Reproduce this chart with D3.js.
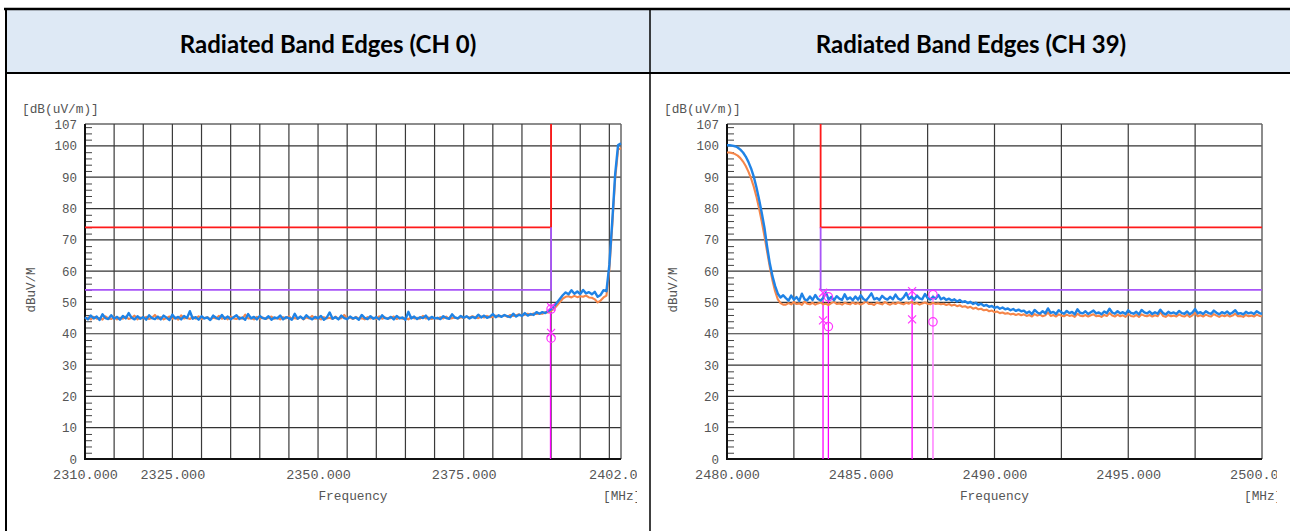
<!DOCTYPE html>
<html><head><meta charset="utf-8">
<script src="https://cdn.jsdelivr.net/npm/d3@7"></script>
<style>html,body{margin:0;padding:0;background:#fff;} svg{display:block}</style>
</head><body>
<svg id="c" width="1290" height="531"></svg>
<script>
// ---------------- DATA ----------------
const titles = ["Radiated Band Edges (CH 0)", "Radiated Band Edges (CH 39)"];
const yTicks = [0,10,20,30,40,50,60,70,80,90,100,107];
const yUnit = "[dB(uV/m)]";
const yName = "dBuV/M";
const xName = "Frequency";
const xUnit = "[MHz]";
const ch0Domain = [2310, 2402];
const ch39Domain = [2480, 2500];
const ch0Ticks = [2310, 2325, 2350, 2375, 2402];
const ch39Ticks = [2480, 2485, 2490, 2495, 2500];
const ch0Grid = [2315,2320,2325,2330,2335,2340,2345,2350,2355,2360,2365,2370,2375,2380,2385,2390,2395,2400];
const ch39Grid = [2482.5,2485,2487.5,2490,2492.5,2495,2497.5];
// sweep grid (frequency of first point and spacing)
const ch0Start = 2310, ch0Step = 0.5;
const ch39Start = 2480, ch39Step = 0.1;

const ch0Peak = [
45.3,44.6,45.8,44.9,45.5,44.4,46.2,45.0,44.7,45.9,44.8,45.4,44.5,
45.7,44.9,46.6,45.1,44.6,45.6,44.8,45.3,44.5,45.9,45.0,44.7,45.5,
44.6,45.8,45.1,44.4,46.1,44.9,45.4,44.6,45.7,45.0,47.2,44.8,45.3,
44.5,45.6,44.9,45.2,44.4,45.8,45.1,44.7,46.0,44.8,45.5,44.6,45.3,
45.9,44.7,45.2,44.5,46.3,44.9,45.4,44.6,45.7,45.0,44.8,45.6,44.5,
45.2,44.9,45.8,44.6,45.3,45.0,44.5,46.4,44.8,45.5,44.7,45.9,45.1,
44.6,45.4,44.9,45.7,44.5,45.2,46.8,44.8,45.3,44.6,45.8,45.0,44.7,
45.5,44.9,45.2,44.5,46.0,45.1,44.7,45.6,44.8,45.3,44.6,45.9,45.0,
44.8,45.4,44.6,45.7,44.9,45.2,44.5,47.0,44.9,45.5,44.7,45.3,45.0,
45.8,44.6,45.4,44.9,45.1,44.7,45.6,45.0,44.8,46.2,45.2,44.9,45.7,
45.1,45.6,44.9,45.4,45.0,46.1,45.2,45.8,45.1,45.5,46.3,45.3,45.9,
45.4,46.0,45.6,45.3,46.4,45.5,46.1,45.7,46.6,45.8,46.3,46.0,46.9,
46.4,46.9,46.6,47.3,47.8,48.7,49.9,51.1,52.3,53.2,52.6,53.9,52.8,53.5,
52.7,54.0,52.9,53.3,52.6,53.4,51.8,52.4,53.9,53.6,62.0,76.0,91.0,100.3,100.8
];
const ch0Avg = [
44.9,45.2,44.6,45.4,44.8,45.0,44.5,45.6,44.9,44.7,45.3,44.6,45.1,
44.8,45.5,44.7,45.0,45.8,44.6,45.2,44.9,45.4,44.7,45.1,46.0,44.8,
45.3,44.6,45.0,45.5,44.8,45.2,44.5,45.9,44.9,45.1,44.7,45.4,44.8,
45.6,44.7,45.0,45.3,44.6,45.1,44.9,45.7,44.8,45.2,44.6,45.5,44.9,
44.7,45.3,44.8,46.1,44.9,45.0,44.6,45.4,44.8,45.2,44.7,45.0,45.5,
44.8,45.1,44.6,45.3,44.9,45.6,44.7,45.0,44.8,45.4,44.6,45.2,44.9,
45.7,44.8,45.0,44.6,45.3,44.9,45.1,44.7,45.5,44.8,45.0,46.0,44.9,
45.2,44.7,45.4,44.8,45.0,44.6,45.3,44.9,45.1,44.7,45.6,44.8,45.2,
44.9,45.0,45.5,44.7,45.2,44.8,45.0,44.6,45.4,44.9,45.1,44.8,45.7,
44.9,45.2,44.7,45.1,44.8,45.3,44.9,45.5,44.8,45.0,45.2,44.9,45.3,
45.0,45.4,45.1,45.6,45.2,45.0,45.5,45.2,45.7,45.3,45.4,45.8,45.5,
45.6,45.9,45.4,46.0,45.7,45.9,46.2,45.8,46.1,46.4,46.0,46.5,46.3,
46.5,46.4,46.9,46.8,47.3,48.0,49.0,50.1,51.2,51.8,52.0,51.6,52.1,51.7,
52.0,51.8,52.2,51.6,51.5,51.0,50.0,50.6,51.6,52.2,60.5,74.5,89.5,98.8,99.3
];
const ch39Peak = [
100.2,100.2,100.1,99.9,99.5,98.8,97.9,96.6,94.9,92.8,
90.2,86.8,82.9,78.6,73.9,67.8,62.5,58.4,55.2,52.8,51.6,52.3,
51.4,50.6,52.2,50.9,51.7,50.5,52.8,51.0,50.7,51.9,50.8,52.4,51.1,50.6,51.5,53.2,50.9,51.8,50.7,52.0,
51.2,50.8,52.6,51.0,51.6,50.7,51.9,50.9,52.3,51.1,50.6,51.7,52.9,51.0,51.4,50.8,52.1,51.3,50.9,51.8,
51.0,52.5,51.2,50.8,51.6,53.0,51.1,51.9,50.9,52.2,51.3,51.0,52.7,51.4,50.9,51.8,51.2,52.4,51.0,
51.5,50.8,51.2,50.6,51.0,50.3,50.8,50.1,50.4,49.8,50.2,49.5,49.9,49.2,49.6,
48.9,49.2,48.6,48.9,48.3,48.6,48.0,48.4,47.8,48.1,47.5,47.9,47.3,47.7,47.2,
47.4,46.6,47.1,46.3,47.6,46.8,46.4,47.2,46.5,48.1,46.7,47.0,46.3,47.5,46.9,46.4,47.3,46.6,47.0,46.2,47.8,46.7,46.5,47.2,46.3,46.9,47.4,46.5,46.8,46.2,
47.1,46.6,48.0,46.8,46.4,47.2,46.5,46.9,46.3,47.5,46.7,46.4,47.0,46.2,47.6,46.8,46.5,47.1,46.3,46.9,46.4,47.7,46.6,46.2,47.0,46.5,46.8,46.3,47.3,46.6,
46.4,47.1,46.2,46.8,47.9,46.5,46.9,46.3,47.2,46.6,46.4,47.4,46.7,46.2,46.9,46.5,47.1,46.3,46.8,47.5,46.4,46.6,46.2,47.0,46.5,46.8,46.3,47.2,46.6,46.4
];
const ch39Avg = [
97.9,97.9,97.7,97.4,96.9,96.1,95.0,93.6,91.8,89.6,
87.0,83.8,80.0,75.8,71.2,66.2,61.3,57.0,53.5,51.0,49.8,49.3,
49.3,49.8,49.4,50.1,49.5,49.7,49.2,50.3,49.6,49.4,49.9,49.3,49.7,50.0,49.4,49.6,49.2,49.8,50.2,49.5,
49.7,49.3,49.9,49.6,49.4,50.0,49.5,49.8,49.3,49.7,50.4,49.5,49.6,49.2,49.9,49.7,49.4,50.1,49.6,49.3,
49.8,49.5,50.0,49.7,49.4,49.9,49.6,50.2,49.5,49.8,49.3,49.7,50.0,49.6,49.4,49.9,49.5,49.7,49.4,
49.6,49.2,49.5,49.0,49.3,48.8,49.1,48.6,48.8,48.3,48.6,48.0,48.3,47.8,48.0,
47.5,47.7,47.2,47.4,46.9,47.1,46.6,46.8,46.4,46.6,46.2,46.4,46.0,46.3,45.9,
46.2,45.7,46.0,45.5,46.3,45.8,46.1,45.6,45.9,46.8,45.7,46.0,45.5,46.2,45.8,45.6,46.1,45.7,45.9,45.4,46.4,45.8,45.6,46.0,45.5,45.9,46.2,45.6,45.8,45.4,
46.0,45.7,46.6,45.8,45.5,46.1,45.6,45.9,45.4,46.3,45.7,45.5,46.0,45.4,46.2,45.8,45.6,46.0,45.5,45.9,45.6,47.0,45.7,45.4,46.0,45.6,45.8,45.5,46.2,45.7,
45.5,46.1,45.4,45.9,46.7,45.6,45.9,45.5,46.1,45.7,45.5,46.3,45.8,45.4,45.9,45.6,46.0,45.5,45.8,46.4,45.6,45.7,45.4,46.0,45.6,45.8,45.5,46.1,45.7,45.6
];
const peakLimit = 74, avgLimit = 54;
const ch0Edge = 2390, ch39Edge = 2483.5;
const ch0MarkerF = [2390, 2390, 2390, 2390];
const ch0MarkerV = [48.5, 47.9, 40.3, 38.6];
const ch0MarkerS = ["x", "o", "x", "o"];
const ch0MarkerLineF = [2389.9];
const ch0MarkerLineV = [48.2];
const ch39MarkerF = [2483.59, 2483.79, 2483.59, 2483.79, 2486.92, 2487.70, 2486.92, 2487.70];
const ch39MarkerV = [53.1, 51.8, 44.3, 42.3, 53.6, 52.5, 44.6, 43.8];
const ch39MarkerS = ["x", "o", "x", "o", "x", "o", "x", "o"];
const ch39MarkerLineF = [2483.59, 2483.79, 2486.92, 2487.70];
const ch39MarkerLineV = [53.1, 51.8, 53.6, 52.5];

// ---------------- DRAW ----------------
const svg = d3.select("#c");
const W = 1290, H = 531;
const MONO = "'Liberation Mono','Courier New',monospace";

// table
svg.append("rect").attr("x",6).attr("y",9).attr("width",W).attr("height",64).attr("fill","#dee9f5");
const tbl = [[4,9,W,9,2.5],[6,8,6,H,2],[6,73,W,73,2],[650,9,650,H,1.5]];
tbl.forEach(t=>svg.append("line").attr("x1",t[0]).attr("y1",t[1]).attr("x2",t[2]).attr("y2",t[3]).attr("stroke","#000").attr("stroke-width",t[4]));
svg.selectAll("text.title").data(titles).enter().append("text")
  .attr("x",(d,i)=> i===0 ? 328 : 971).attr("y",53)
  .attr("text-anchor","middle").attr("font-family","Lato,'Open Sans',sans-serif")
  .attr("font-weight",700).attr("font-size",24).attr("fill","#000").text(d=>d);

function drawChart(id, cfg) {
  const x = d3.scaleLinear().domain(cfg.domain).range([cfg.left, cfg.right]);
  const y = d3.scaleLinear().domain([0,107]).range([459,124]);
  svg.append("clipPath").attr("id","clip"+id).append("rect")
     .attr("x",cfg.left-80).attr("y",80).attr("width",cfg.right-cfg.left+80+cfg.clipPad).attr("height",450);
  const g = svg.append("g").attr("clip-path",`url(#clip${id})`);

  // grid
  const grid = g.append("g");
  grid.selectAll("line.h").data(yTicks.filter(v=>v>0)).enter().append("line")
    .attr("x1",cfg.left).attr("x2",cfg.right).attr("y1",d=>y(d)).attr("y2",d=>y(d))
    .attr("stroke",d=>d===107?"#666":"#333").attr("stroke-width",d=>d===107?1.5:1.2);
  grid.selectAll("line.v").data(cfg.grid.concat([cfg.domain[1]])).enter().append("line")
    .attr("x1",d=>x(d)).attr("x2",d=>x(d)).attr("y1",y(107)).attr("y2",y(0))
    .attr("stroke",d=>d===cfg.domain[1]?"#666":"#3a3a3a").attr("stroke-width",d=>d===cfg.domain[1]?1.5:1.2);

  // minor ticks
  const minor = d3.range(2,107,2).filter(v=>v%10!==0);
  g.append("g").attr("transform",`translate(${cfg.left},0)`)
    .call(d3.axisRight(y).tickValues(minor).tickSize(7).tickFormat(""))
    .call(a=>a.select(".domain").remove())
    .call(a=>a.selectAll("line").attr("stroke","#444").attr("stroke-width",1));

  // y axis labels
  g.append("g").attr("transform",`translate(${cfg.left},0)`)
    .call(d3.axisLeft(y).tickValues(yTicks).tickSize(0).tickPadding(8).tickFormat(d3.format("d")))
    .call(a=>a.select(".domain").remove())
    .call(a=>a.selectAll("text").attr("font-family",MONO).attr("font-size",12.5).attr("fill","#555"));
  // x axis labels
  g.append("g").attr("transform",`translate(0,${y(0)})`)
    .call(d3.axisBottom(x).tickValues(cfg.ticks).tickSize(0).tickPadding(10).tickFormat(d3.format(".3f")))
    .call(a=>a.select(".domain").remove())
    .call(a=>a.selectAll("text").attr("font-family",MONO).attr("font-size",13.5).attr("fill","#555"));

  // axes lines
  g.append("line").attr("x1",cfg.left).attr("x2",cfg.left).attr("y1",y(107)).attr("y2",y(0)+1).attr("stroke","#111").attr("stroke-width",2);
  g.append("line").attr("x1",cfg.left).attr("x2",cfg.right).attr("y1",y(0)).attr("y2",y(0)).attr("stroke","#111").attr("stroke-width",2);

  // texts
  g.append("text").attr("x",cfg.left-63).attr("y",113).attr("font-family",MONO).attr("font-size",12.8).attr("fill","#555").text(yUnit);
  g.append("text").attr("transform",`translate(${cfg.left-50},290) rotate(-90)`).attr("text-anchor","middle")
    .attr("font-family",MONO).attr("font-size",12.5).attr("fill","#555").text(yName);
  g.append("text").attr("x",(cfg.left+cfg.right)/2).attr("y",500).attr("text-anchor","middle")
    .attr("font-family",MONO).attr("font-size",12.8).attr("fill","#555").text(xName);
  g.append("text").attr("x",cfg.right-18).attr("y",500)
    .attr("font-family",MONO).attr("font-size",12.8).attr("fill","#555").text(xUnit);

  // limit lines
  const lim = g.append("g").attr("fill","none");
  const e = cfg.edge;
  if (cfg.side === "left") {
    lim.append("path").attr("d", d3.line()([[x(cfg.domain[0]),y(peakLimit)],[x(e),y(peakLimit)],[x(e),y(107)]]))
       .attr("stroke","#ff1a1a").attr("stroke-width",1.8);
    lim.append("path").attr("d", d3.line()([[x(cfg.domain[0]),y(avgLimit)],[x(e),y(avgLimit)],[x(e),y(peakLimit)]]))
       .attr("stroke","#a855f7").attr("stroke-width",1.8);
  } else {
    lim.append("path").attr("d", d3.line()([[x(e),y(107)],[x(e),y(peakLimit)],[x(cfg.domain[1]),y(peakLimit)]]))
       .attr("stroke","#ff1a1a").attr("stroke-width",1.8);
    lim.append("path").attr("d", d3.line()([[x(e),y(peakLimit)],[x(e),y(avgLimit)],[x(cfg.domain[1]),y(avgLimit)]]))
       .attr("stroke","#a855f7").attr("stroke-width",1.8);
  }

  // marker lines
  g.selectAll("line.ml").data(cfg.mlF).enter().append("line")
    .attr("x1",d=>x(d)).attr("x2",d=>x(d)).attr("y1",(d,i)=>y(cfg.mlV[i])).attr("y2",y(0))
    .attr("stroke",(d,i)=> i===3 ? "#ff88ff" : "#ff00ff").attr("stroke-width",(d,i)=> i===3 ? 1.6 : 1.3);

  // traces
  const line = d3.line().x((d,i)=>x(cfg.start + i*cfg.step)).y(d=>y(d));
  g.append("path").attr("d",line(cfg.avg)).attr("fill","none").attr("stroke","#f5864a").attr("stroke-width",2.1).attr("stroke-linejoin","round");
  g.append("path").attr("d",line(cfg.peak)).attr("fill","none").attr("stroke","#1f83e6").attr("stroke-width",2.4).attr("stroke-linejoin","round");

  // markers
  const mk = g.append("g").attr("fill","none").attr("stroke","#ff33ff").attr("stroke-width",1.2);
  cfg.mF.forEach((f,i)=>{
    const cx = x(f), cy = y(cfg.mV[i]);
    if (cfg.mS[i] === "o") {
      mk.append("circle").attr("cx",cx).attr("cy",cy).attr("r",4.2);
    } else {
      mk.append("path").attr("d",`M${cx-4},${cy-4}L${cx+4},${cy+4}M${cx-4},${cy+4}L${cx+4},${cy-4}`);
    }
  });
}

drawChart(0, {side:"left", domain:ch0Domain, left:85, right:621, clipPad:16, ticks:ch0Ticks, grid:ch0Grid,
  start:ch0Start, step:ch0Step, peak:ch0Peak, avg:ch0Avg, edge:ch0Edge,
  mF:ch0MarkerF, mV:ch0MarkerV, mS:ch0MarkerS, mlF:ch0MarkerLineF, mlV:ch0MarkerLineV});
drawChart(1, {side:"right", domain:ch39Domain, left:727, right:1262, clipPad:15, ticks:ch39Ticks, grid:ch39Grid,
  start:ch39Start, step:ch39Step, peak:ch39Peak, avg:ch39Avg, edge:ch39Edge,
  mF:ch39MarkerF, mV:ch39MarkerV, mS:ch39MarkerS, mlF:ch39MarkerLineF, mlV:ch39MarkerLineV});
</script>
</body></html>
